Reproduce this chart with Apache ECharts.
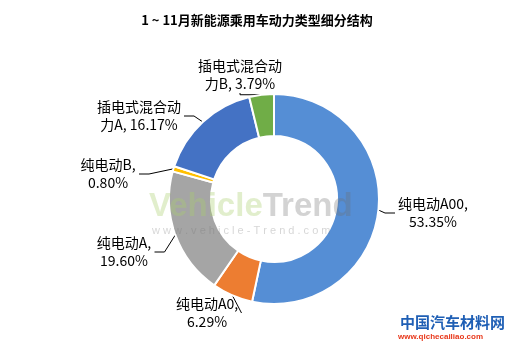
<!DOCTYPE html>
<html><head><meta charset="utf-8">
<script src="https://cdn.jsdelivr.net/npm/echarts@6/dist/echarts.min.js"></script>
<style>html,body{margin:0;padding:0;background:#fff}#c{width:514px;height:347px}</style>
</head><body><div id="c"></div>
<script>
const titleText = '1 ~ 11月新能源乘用车动力类型细分结构';
const categories = ['纯电动A00','纯电动A0','纯电动A','纯电动B','插电式混合动力A','插电式混合动力B'];
const shares = [53.35, 6.29, 19.60, 0.80, 16.17, 3.79];
const colors = ['#558ED5','#ED7D31','#A5A5A5','#FFC000','#4472C4','#70AD47'];
// label anchor points (layout only)
const labelPos = [[433,213],[207,313],[124,252],[108,174],[139,116],[240,75]];

const font = '"Noto Sans CJK SC","Microsoft YaHei",sans-serif';
function labelText(name, value){
  const v=value.toFixed(2)+'%';
  if(name.length>6) return name.slice(0,6)+'\n'+name.slice(6)+', '+v;
  return name+',\n'+v;
}
const mctx=document.createElement('canvas').getContext('2d');
mctx.font='14px '+font;
function textW(t){return Math.ceil(Math.max(...t.split('\n').map(s=>mctx.measureText(s).width)))+6;}

const chart = echarts.init(document.getElementById('c'), null, {renderer:'canvas'});
chart.setOption({
  animation:false,
  title:{text:titleText,left:'center',top:9,textStyle:{fontFamily:font,fontSize:13,fontWeight:'bold',color:'#000'}},
  graphic:[
    {type:'text',left:149,top:190,z:100,silent:true,style:{
      text:'{g|Vehicle}{s|Trend}',
      rich:{g:{font:'bold 33px "Liberation Sans",Arial,sans-serif',fill:'rgba(170,205,110,0.35)'},
            s:{font:'bold 33px "Liberation Sans",Arial,sans-serif',fill:'rgba(110,110,110,0.3)'}}}},
    {type:'text',left:152,top:225,z:100,silent:true,style:{text:'w w w . v e h i c l e - T r e n d . c o m',font:'11px "Liberation Sans",sans-serif',fill:'rgba(120,120,120,0.3)'}},
    {type:'text',left:400,top:315,z:100,style:{text:'中国汽车材料网',font:'bold 15px "Noto Sans CJK SC",sans-serif',fill:'#1f5fb5'}},
    {type:'text',left:398,top:333,z:100,style:{text:'www.qichecailiao.com',font:'bold 8px "Liberation Sans",sans-serif',fill:'#e8381b'}}
  ],
  series:[{
    type:'pie',
    center:[274,199],
    radius:[63,105],
    startAngle:90,
    clockwise:true,
    itemStyle:{borderColor:'#fff',borderWidth:2},
    data:categories.map((n,i)=>({name:n,value:shares[i],itemStyle:{color:colors[i]},
      label:{width:textW(labelText(n,shares[i]))}})),
    label:{
      show:true,position:'outside',fontFamily:font,fontSize:14,color:'#000',lineHeight:18,
      overflow:'none',
      formatter:p=>labelText(p.name,p.value)
    },
    labelLine:{show:true,length:10,length2:10,lineStyle:{color:'#000',width:1}},
    labelLayout:function(params){
      const p=labelPos[params.dataIndex];
      return {x:p[0],y:p[1],align:'center',verticalAlign:'middle'};
    }
  }]
});
</script></body></html>
